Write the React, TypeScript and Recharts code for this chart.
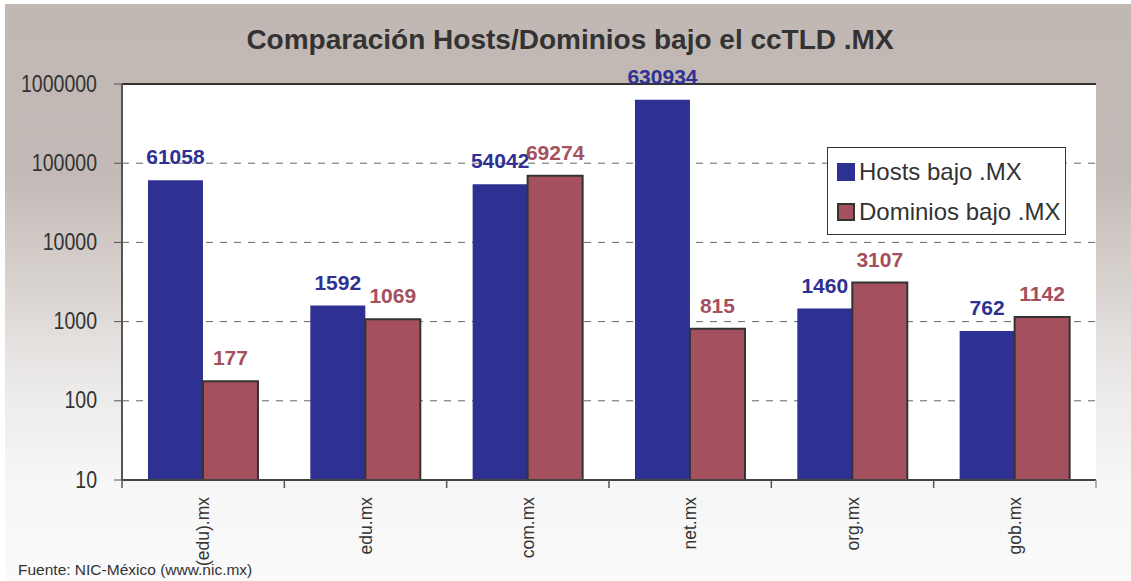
import React from 'react'
import {
  BarChart, Bar, XAxis, YAxis, CartesianGrid, LabelList, ReferenceLine
} from 'recharts'

const CATEGORIAS = ['(edu).mx', 'edu.mx', 'com.mx', 'net.mx', 'org.mx', 'gob.mx']
const HOSTS = [61058, 1592, 54042, 630934, 1460, 762]
const DOMINIOS = [177, 1069, 69274, 815, 3107, 1142]
const Y_TICKS = [10, 100, 1000, 10000, 100000, 1000000]

const AZUL = '#2E3192'
const ROJO = '#A5505E'
const TEXTO = '#333333'
const PLOT_W = 974

const data = CATEGORIAS.map((c, i) => ({ cat: c, hosts: HOSTS[i], dominios: DOMINIOS[i] }))

function CatTick(props: any) {
  const { x, y, payload, index } = props
  const step = PLOT_W / CATEGORIAS.length
  const top = y - 8
  return (
    <g>
      <line x1={x - step / 2} y1={top} x2={x - step / 2} y2={top + 8} stroke="#555" strokeWidth={1.5} />
      {index === CATEGORIAS.length - 1 && (
        <line x1={x + step / 2} y1={top} x2={x + step / 2} y2={top + 8} stroke="#999" strokeWidth={1.5} />
      )}
      <text
        x={x}
        y={y + 9}
        transform={`rotate(-90, ${x}, ${y + 9})`}
        textAnchor="end"
        dominantBaseline="central"
        fontSize={17.5}
        fill={TEXTO}
        fontFamily="'Liberation Sans', Arial, sans-serif"
      >
        {payload.value}
      </text>
    </g>
  )
}

// etiquetas del eje Y algo estrechas, como en el original
function ValTick(props: any) {
  const { x, y, payload } = props
  return (
    <text
      transform={`translate(${x}, ${y}) scale(0.85, 1)`}
      textAnchor="end"
      dominantBaseline="central"
      fontSize={23}
      fill={TEXTO}
      fontFamily="'Liberation Sans', Arial, sans-serif"
    >
      {payload.value}
    </text>
  )
}

function Leyenda() {
  const items = [
    { name: 'Hosts bajo .MX', color: AZUL, border: 'none' },
    { name: 'Dominios bajo .MX', color: ROJO, border: '2px solid #333' },
  ]
  return (
    <div style={{
      position: 'absolute', left: 827, top: 147, width: 239, height: 88,
      border: '1px solid #333', background: '#fff', boxSizing: 'border-box',
      padding: '4px 0 0 9px',
    }}>
      {items.map(it => (
        <div key={it.name} style={{ display: 'flex', alignItems: 'center', height: 40 }}>
          <span style={{
            display: 'inline-block', width: 18, height: 18, background: it.color,
            border: it.border, boxSizing: 'border-box', marginRight: 4,
          }} />
          <span style={{ fontSize: 24, color: TEXTO }}>{it.name}</span>
        </div>
      ))}
    </div>
  )
}

export default function App() {
  return (
    <div style={{
      position: 'absolute', left: 0, top: 0, width: 1131, height: 581, background: '#fff',
      fontFamily: "'Liberation Sans', Arial, sans-serif",
    }}>
      <div style={{
        position: 'absolute', left: 5, top: 4, width: 1126, height: 577,
        background: 'linear-gradient(to bottom, #c1b8b4 0%, #c3bab7 30%, #d8d2cf 48%, #ebe9e8 65%, #f6f6f6 82%, #fafafa 100%)',
      }} />
      <div style={{
        position: 'absolute', left: 0, top: 24, width: 1140, textAlign: 'center',
        fontSize: 28, fontWeight: 'bold', color: TEXTO,
      }}>
        Comparación Hosts/Dominios bajo el ccTLD .MX
      </div>
      <div style={{ position: 'absolute', left: 0, top: 0 }}>
        <BarChart
          width={1131}
          height={581}
          data={data}
          margin={{ top: 84, right: 35, left: 0, bottom: 0 }}
          barCategoryGap="16%"
          barGap={0}
        >
          <CartesianGrid vertical={false} fill="#ffffff" stroke="#666" strokeDasharray="7 7" />
          <XAxis
            dataKey="cat"
            height={101}
            tickLine={false}
            axisLine={{ stroke: '#444', strokeWidth: 2 }}
            tick={<CatTick />}
            interval={0}
          />
          <YAxis
            scale="log"
            domain={[10, 1000000]}
            ticks={Y_TICKS}
            allowDataOverflow
            width={122}
            tickSize={8}
            tickMargin={17}
            axisLine={{ stroke: '#555', strokeWidth: 2 }}
            tickLine={{ stroke: '#555' }}
            tick={<ValTick />}
          />
          <ReferenceLine y={1000000} stroke="#333" strokeWidth={2} />
          <Bar dataKey="hosts" name="Hosts bajo .MX" fill={AZUL} isAnimationActive={false}>
            <LabelList dataKey="hosts" position="top" offset={16} fill={AZUL} fontSize={21} fontWeight="bold" />
          </Bar>
          <Bar dataKey="dominios" name="Dominios bajo .MX" fill={ROJO} stroke="#333" strokeWidth={2} isAnimationActive={false}>
            <LabelList dataKey="dominios" position="top" offset={16} fill={ROJO} fontSize={21} fontWeight="bold" />
          </Bar>
        </BarChart>
      </div>
      <Leyenda />
      <div style={{ position: 'absolute', left: 18, top: 561, fontSize: 15.5, color: TEXTO }}>
        Fuente: NIC-México (www.nic.mx)
      </div>
    </div>
  )
}
